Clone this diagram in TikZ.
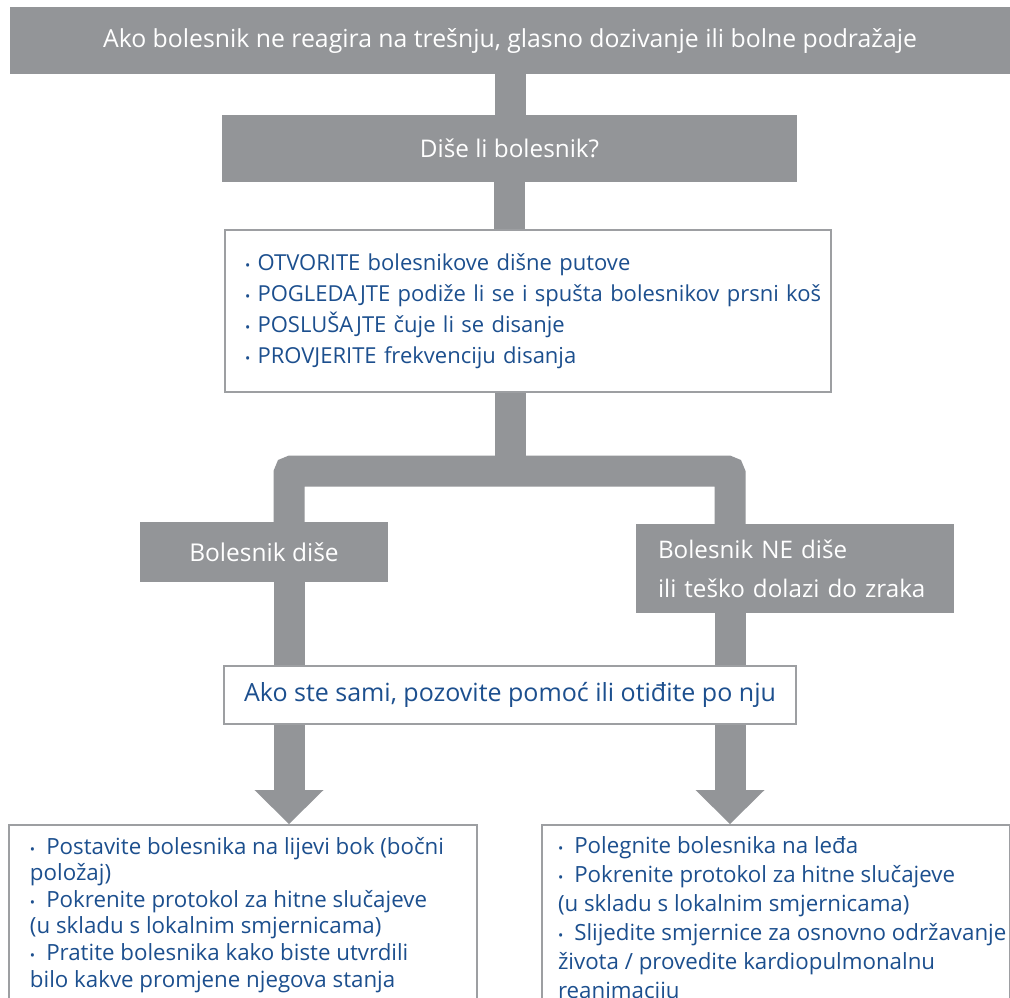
\documentclass[tikz,border=0pt]{standalone}
\usepackage{fontspec}
\setmainfont{Open Sans}
\usetikzlibrary{arrows.meta,backgrounds}

\definecolor{boxgray}{HTML}{939598}
\definecolor{textblue}{HTML}{1C4F8E}
\definecolor{framegray}{HTML}{9D9FA2}

\tikzstyle{graybox} = [fill=boxgray,text=white,rectangle,inner sep=0pt,font=\fontsize{24.5}{28}\selectfont]
\tikzstyle{whitebox} = [fill=white,draw=framegray,line width=2pt,rectangle,text=textblue,inner sep=0pt]
\tikzstyle{conn} = [draw=boxgray,line width=31pt]
\tikzstyle{connarrow} = [conn,-{Triangle[width=69pt,length=34pt,line width=0pt]}]

\newcommand{\bul}{{\fontsize{14}{14}\selectfont\textbullet}\ }
\newcommand{\bulwide}{{\fontsize{14}{14}\selectfont\textbullet}\hspace{11pt}}

\begin{document}
\begin{tikzpicture}[x=1pt,y=-1pt]
	\clip (0,0) rectangle (1010,997);
	\node (top) [graybox,minimum width=1000pt,minimum height=67pt,font=\fontsize{24.8}{28}\selectfont] at (510,40.5) {Ako bolesnik ne reagira na trešnju, glasno dozivanje ili bolne podražaje};
	\node (ask) [graybox,minimum width=575pt,minimum height=67pt,font=\fontsize{24.3}{28}\selectfont] at (509.5,148.5) {Diše li bolesnik?};
	\node (check) [whitebox,minimum width=606pt,minimum height=162pt,inner xsep=20pt,text width=566pt,align=left,font=\fontsize{22}{31}\selectfont] at (528,311)
		{\bul OTVORITE bolesnikove dišne putove\\\mbox{\bul POGLEDAJTE podiže li se i spušta bolesnikov prsni koš}\\\bul POSLUŠAJTE čuje li se disanje\\\bul PROVJERITE frekvenciju disanja};
	\node (yes) [graybox,minimum width=248pt,minimum height=60pt] at (264,552) {Bolesnik diše};
	\node (no) [graybox,minimum height=89pt,inner xsep=22pt,text width=274pt,align=left,font=\fontsize{24.2}{39}\selectfont] at (795,568.5) {Bolesnik NE diše\\\mbox{ili teško dolazi do zraka}};
	\node (alone) [whitebox,minimum width=572pt,minimum height=58pt,font=\fontsize{25}{28}\selectfont] at (510,695) {Ako ste sami, pozovite pomoć ili otiđite po nju};
	\node (lbot) [whitebox,anchor=north,inner xsep=21pt,inner ysep=12pt,text width=426pt,align=flush left,font=\fontsize{22.3}{26.6}\selectfont] at (243,824)
		{\mbox{\bulwide Postavite bolesnika na lijevi bok (bočni}\\položaj)\\\bulwide Pokrenite protokol za hitne slučajeve\\(u skladu s lokalnim smjernicama)\\\bulwide Pratite bolesnika kako biste utvrdili\\bilo kakve promjene njegova stanja};
	\node (rbot) [whitebox,anchor=north,inner xsep=16pt,inner ysep=12pt,text width=436pt,align=flush left,font=\fontsize{22.3}{29}\selectfont] at (776,824)
		{\bulwide Polegnite bolesnika na leđa\\\bulwide Pokrenite protokol za hitne slučajeve\\(u skladu s lokalnim smjernicama)\\\mbox{\bulwide Slijedite smjernice za osnovno održavanje}\\života / provedite kardiopulmonalnu\\reanimaciju};
	\coordinate (split) at (510,471);
	\coordinate (lturn) at (289,471);
	\coordinate (rturn) at (730,471);
	\begin{scope}[on background layer]
		\fill [white] (0,0) rectangle (1010,997);
		\draw [conn] (top.south) -- (top.south |- ask.north);
		\draw [conn] (ask.south) -- (ask.south |- check.north);
		\draw [conn] (check.south -| split) -- (split);
		\draw [conn,rounded corners=3pt] (yes.north -| lturn) -- (lturn) -- (rturn) -- (no.north -| rturn);
		\draw [conn] (yes.south -| lturn) -- (alone.north -| lturn);
		\draw [conn] (no.south -| rturn) -- (alone.north -| rturn);
		\draw [connarrow] (alone.south -| lturn) -- (lbot.north -| lturn);
		\draw [connarrow] (alone.south -| rturn) -- (rbot.north -| rturn);
	\end{scope}
\end{tikzpicture}
\end{document}
